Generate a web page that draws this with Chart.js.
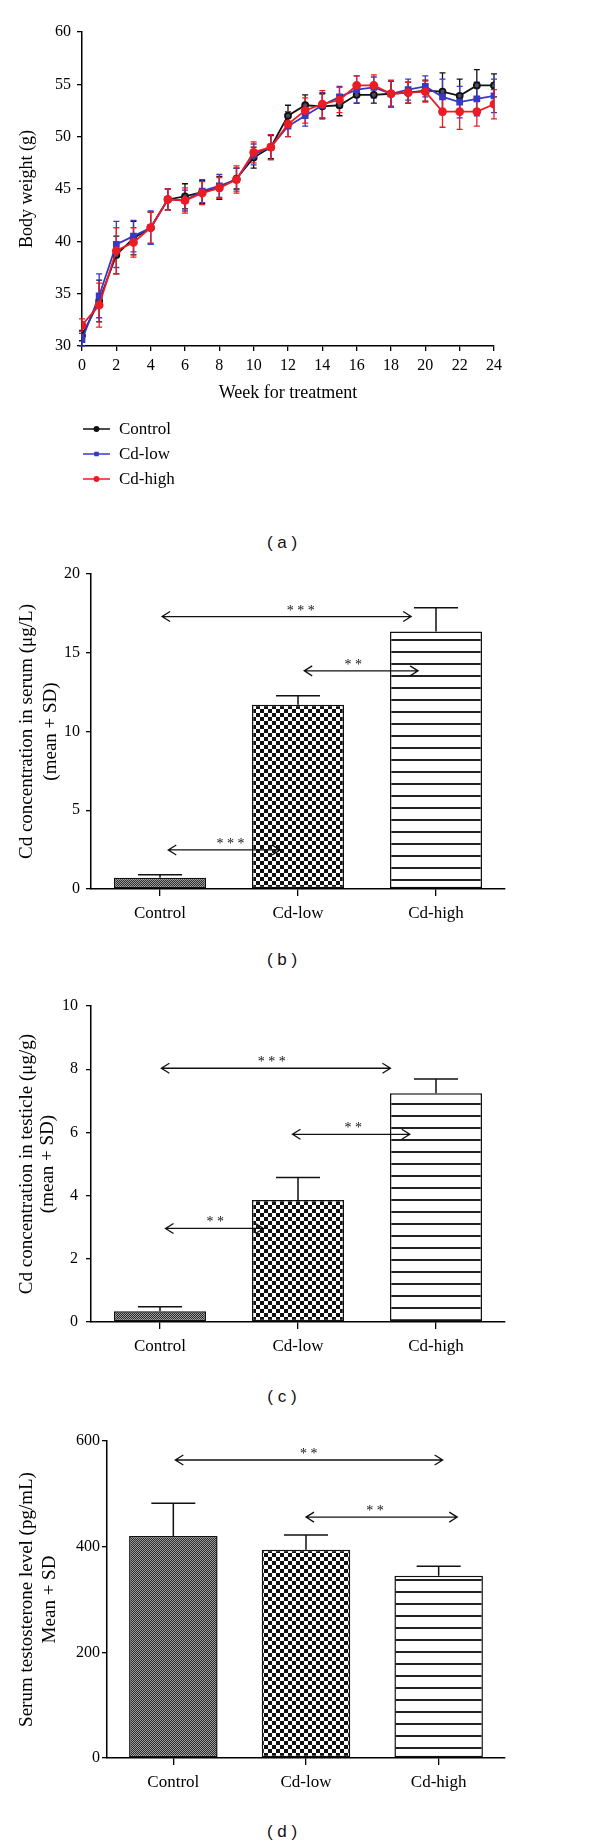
<!DOCTYPE html>
<html>
<head>
<meta charset="utf-8">
<script src="https://cdn.jsdelivr.net/npm/chart.js@4.4.1/dist/chart.umd.min.js"></script>
<style>
	html, body { margin: 0; padding: 0; background: #fff; }
	body { width: 600px; height: 1845px; position: relative; overflow: hidden; }
	canvas { position: absolute; left: 0; }
	.tag { position: absolute; left: 0; width: 564px; text-align: center; font: 17px 'Liberation Sans', Arial, sans-serif; line-height: 20px; color: #111; }
</style>
</head>
<body>
<canvas id="weight" width="600" height="500" style="top:0"></canvas>
<div class="tag" style="top:533px">( a )</div>
<canvas id="serum" width="600" height="385" style="top:545px"></canvas>
<div class="tag" style="top:950px">( b )</div>
<canvas id="testicle" width="600" height="385" style="top:985px"></canvas>
<div class="tag" style="top:1387px">( c )</div>
<canvas id="testo" width="600" height="380" style="top:1425px"></canvas>
<div class="tag" style="top:1822px">( d )</div>

<script>
// body weight over 24 weeks
const weeks = [0, 1, 2, 3, 4, 5, 6, 7, 8, 9, 10, 11, 12, 13, 14, 15, 16, 17, 18, 19, 20, 21, 22, 23, 24];
const controlWeight = [31.0, 34.3, 38.7, 40.3, 41.3, 44.0, 44.3, 44.7, 45.1, 46.0, 48.0, 49.0, 52.0, 53.0, 52.9, 53.0, 54.0, 54.0, 54.1, 54.2, 54.4, 54.3, 53.9, 54.9, 54.9];
const lowWeight = [30.6, 34.8, 39.7, 40.5, 41.3, 44.0, 43.9, 44.8, 45.3, 45.9, 48.3, 49.0, 51.0, 52.0, 53.0, 53.8, 54.5, 54.7, 54.1, 54.5, 54.8, 53.8, 53.3, 53.6, 53.9];
const highWeight = [32.0, 33.9, 39.1, 39.9, 41.3, 44.0, 43.9, 44.6, 45.1, 45.9, 48.5, 49.0, 51.2, 52.5, 53.1, 53.5, 54.9, 54.9, 54.1, 54.2, 54.3, 52.4, 52.4, 52.4, 53.1];
const controlWeightSD = [0.5, 2.0, 1.8, 1.6, 1.5, 1.0, 1.2, 1.1, 1.1, 1.0, 1.0, 1.1, 1.0, 1.0, 1.2, 1.0, 0.8, 0.8, 1.2, 1.0, 1.0, 1.8, 1.6, 1.5, 1.1];
const lowWeightSD = [0.6, 2.1, 2.2, 1.5, 1.6, 1.0, 1.0, 1.1, 1.1, 1.1, 1.0, 1.2, 1.0, 1.0, 1.2, 1.0, 1.3, 1.0, 1.2, 1.0, 1.0, 1.7, 1.5, 1.6, 1.6];
const highWeightSD = [0.6, 2.1, 2.2, 1.4, 1.5, 1.0, 1.2, 1.1, 1.0, 1.3, 1.0, 1.2, 1.2, 1.2, 1.3, 1.2, 0.9, 1.0, 1.3, 1.0, 1.0, 1.5, 1.7, 1.4, 1.4];

// bar panels
const groups = ['Control', 'Cd-low', 'Cd-high'];
const serumMean = [0.72, 11.7, 16.35];
const serumSD = [0.18, 0.57, 1.5];
const testicleMean = [0.34, 3.86, 7.24];
const testicleSD = [0.14, 0.71, 0.45];
const testoMean = [420, 394, 345];
const testoSD = [62, 28, 18];

// significance arrows (x in category units, y in data units)
const serumSig = [
	{ from: 0.015, to: 1.82, at: 17.3, mid: 1.02, stars: '* * *' },
	{ from: 1.045, to: 1.87, at: 13.85, mid: 1.40, stars: '* *' },
	{ from: 0.06, to: 0.87, at: 2.48, mid: 0.51, stars: '* * *' }
];
const testicleSig = [
	{ from: 0.01, to: 1.67, at: 8.03, mid: 0.81, stars: '* * *' },
	{ from: 0.96, to: 1.81, at: 5.94, mid: 1.40, stars: '* *' },
	{ from: 0.04, to: 0.75, at: 2.96, mid: 0.40, stars: '* *' }
];
const testoSig = [
	{ from: 0.015, to: 2.03, at: 564, mid: 1.02, stars: '* *' },
	{ from: 1.0, to: 2.14, at: 456, mid: 1.52, stars: '* *' }
];

const SERIF = "'Liberation Serif', 'Times New Roman', serif";
Chart.defaults.font.family = SERIF;
Chart.defaults.color = '#000';
Chart.defaults.animation = false;

// error bars from ds.sd, drawn under the marks
const errorBars = {
	id: 'errorBars',
	beforeDatasetsDraw(chart, args, opts) {
		const { ctx } = chart;
		const yScale = chart.scales.y;
		chart.data.datasets.forEach((ds, i) => {
			if (!ds.sd) return;
			const meta = chart.getDatasetMeta(i);
			ctx.save();
			ctx.strokeStyle = ds.borderColor;
			ctx.lineWidth = opts.width;
			meta.data.forEach((el, j) => {
				const raw = ds.data[j];
				const v = typeof raw === 'object' ? raw.y : raw;
				const top = yScale.getPixelForValue(v + ds.sd[j]);
				const bottom = opts.both ? yScale.getPixelForValue(v - ds.sd[j]) : el.y;
				ctx.beginPath();
				ctx.moveTo(el.x, bottom);
				ctx.lineTo(el.x, top);
				ctx.moveTo(el.x - opts.cap, top);
				ctx.lineTo(el.x + opts.cap, top);
				if (opts.both) {
					ctx.moveTo(el.x - opts.cap, bottom);
					ctx.lineTo(el.x + opts.cap, bottom);
				}
				ctx.stroke();
			});
			ctx.restore();
		});
	}
};

// double headed arrows with stars
function sigArrows(marks) {
	return {
		id: 'sigArrows',
		afterDatasetsDraw(chart) {
			const { ctx, scales: { x, y } } = chart;
			ctx.save();
			ctx.strokeStyle = '#111';
			ctx.fillStyle = '#111';
			ctx.lineWidth = 1.3;
			ctx.font = '14px ' + SERIF;
			ctx.textAlign = 'center';
			ctx.textBaseline = 'alphabetic';
			marks.forEach(m => {
				const x1 = x.getPixelForValue(m.from),
					x2 = x.getPixelForValue(m.to),
					yy = y.getPixelForValue(m.at);
				ctx.beginPath();
				ctx.moveTo(x1, yy); ctx.lineTo(x2, yy);
				ctx.moveTo(x1 + 8, yy - 5); ctx.lineTo(x1, yy); ctx.lineTo(x1 + 8, yy + 5);
				ctx.moveTo(x2 - 8, yy - 5); ctx.lineTo(x2, yy); ctx.lineTo(x2 - 8, yy + 5);
				ctx.stroke();
				ctx.fillText(m.stars, x.getPixelForValue(m.mid), yy - 2);
			});
			ctx.restore();
		}
	};
}

// vertical legend below the line chart
const stackLegend = {
	id: 'stackLegend',
	afterDraw(chart, args, opts) {
		const { ctx } = chart;
		ctx.save();
		ctx.font = '17px ' + SERIF;
		ctx.textBaseline = 'middle';
		chart.data.datasets.forEach((ds, i) => {
			const y = opts.top + i * opts.gap;
			ctx.strokeStyle = ds.borderColor;
			ctx.lineWidth = 1.5;
			ctx.beginPath();
			ctx.moveTo(opts.left, y);
			ctx.lineTo(opts.left + opts.len, y);
			ctx.stroke();
			ctx.fillStyle = ds.borderColor;
			Chart.helpers.drawPoint(ctx, { pointStyle: ds.pointStyle, radius: 2.2, rotation: 0, borderWidth: 1 }, opts.left + opts.len / 2, y);
			ctx.fillStyle = '#000';
			ctx.fillText(ds.label, opts.left + opts.len + 9, y + 1);
		});
		ctx.restore();
	}
};

function makePattern(w, h, draw) {
	const c = document.createElement('canvas');
	c.width = w; c.height = h;
	const g = c.getContext('2d');
	draw(g);
	return g.createPattern(c, 'repeat');
}
const stipple = makePattern(2, 2, g => {
	g.fillStyle = '#9c9c9c'; g.fillRect(0, 0, 2, 2);
	g.fillStyle = '#2c2c2c'; g.fillRect(0, 0, 1, 1); g.fillRect(1, 1, 1, 1);
});
const checker = makePattern(8, 8, g => {
	g.fillStyle = '#fff'; g.fillRect(0, 0, 8, 8);
	g.fillStyle = '#111'; g.fillRect(0, 0, 4, 4); g.fillRect(4, 4, 4, 4);
});
const hlines = makePattern(4, 12, g => {
	g.fillStyle = '#fff'; g.fillRect(0, 0, 4, 12);
	g.fillStyle = '#222'; g.fillRect(0, 10, 4, 2);
});

// ---- (a) body weight ----
const toPts = vals => weeks.map((w, i) => ({ x: w, y: vals[i] }));
new Chart(document.querySelector('#weight'), {
	type: 'line',
	data: {
		datasets: [
			{ label: 'Control', data: toPts(controlWeight), sd: controlWeightSD, borderColor: '#111', pointBackgroundColor: '#4a4d66', pointBorderColor: '#111', pointStyle: 'circle', pointRadius: 3, borderWidth: 1.8, order: 2 },
			{ label: 'Cd-low', data: toPts(lowWeight), sd: lowWeightSD, borderColor: '#3838c4', pointBackgroundColor: '#3838c4', pointBorderColor: '#3838c4', pointStyle: 'rect', pointRadius: 3.5, borderWidth: 1.8, order: 1 },
			{ label: 'Cd-high', data: toPts(highWeight), sd: highWeightSD, borderColor: '#ec1c24', pointBackgroundColor: '#ec1c24', pointBorderColor: '#ec1c24', pointStyle: 'circle', pointRadius: 3.5, borderWidth: 1.8, order: 0 }
		]
	},
	options: {
		responsive: false,
		layout: { padding: { left: 0, right: 106, top: 32, bottom: 94 } },
		elements: { line: { tension: 0 } },
		scales: {
			x: {
				type: 'linear', min: 0, max: 24,
				ticks: { stepSize: 2, font: { size: 16 }, padding: 5, color: '#000' },
				grid: { drawOnChartArea: false, tickLength: 5, color: '#000', lineWidth: 1.3 },
				border: { color: '#000', width: 1.5 },
				title: { display: true, text: 'Week for treatment', font: { size: 18 }, color: '#000', padding: { top: 0, bottom: 2 } },
				afterFit(s) { s.height = 60; }
			},
			y: {
				min: 30, max: 60,
				ticks: { stepSize: 5, font: { size: 16 }, padding: 6, color: '#000' },
				grid: { drawOnChartArea: false, tickLength: 5, color: '#000', lineWidth: 1.3 },
				border: { color: '#000', width: 1.5 },
				title: { display: true, text: 'Body weight (g)', font: { size: 18 }, color: '#000', padding: { top: 16, bottom: 0 } },
				afterFit(s) { s.width = 82; }
			}
		},
		plugins: {
			legend: { display: false },
			tooltip: { enabled: false },
			errorBars: { width: 1.3, cap: 3, both: true },
			stackLegend: { left: 83, len: 27, top: 429, gap: 25 }
		}
	},
	plugins: [errorBars, stackLegend]
});

// ---- bar panels ----
function barChart(sel, means, sds, marks, cfg) {
	return new Chart(document.querySelector(sel), {
		type: 'bar',
		data: {
			labels: groups,
			datasets: [{
				data: means,
				sd: sds,
				backgroundColor: [stipple, checker, hlines],
				borderColor: '#111',
				borderWidth: 1.5,
				borderSkipped: false,
				categoryPercentage: 1,
				barPercentage: 0.667
			}]
		},
		options: {
			responsive: false,
			layout: { padding: { left: 0, right: 95, top: cfg.top, bottom: 0 } },
			scales: {
				x: {
					ticks: { font: { size: 17 }, padding: 7, color: '#000' },
					grid: { offset: false, drawOnChartArea: false, tickLength: 7, color: '#000', lineWidth: 1.3 },
					border: { color: '#000', width: 1.5 },
					afterFit(s) { s.height = cfg.xh; }
				},
				y: {
					min: 0, max: cfg.max,
					ticks: { stepSize: cfg.step, font: { size: 16 }, padding: cfg.tpad, color: '#000' },
					grid: { drawOnChartArea: false, tickLength: 5, color: '#000', lineWidth: 1.3 },
					border: { color: '#000', width: 1.5 },
					title: { display: true, text: cfg.title, font: { size: 19, lineHeight: cfg.lh }, color: '#000', padding: { top: cfg.tpadTitle, bottom: 0 } },
					afterFit(s) { s.width = cfg.yw; }
				}
			},
			plugins: {
				legend: { display: false },
				tooltip: { enabled: false },
				errorBars: { width: 1.5, cap: 22, both: false }
			}
		},
		plugins: [errorBars, sigArrows(marks)]
	});
}

barChart('#serum', serumMean, serumSD, serumSig, {
	top: 29, xh: 41, max: 20, step: 5, tpad: 6, yw: 91, lh: '24px', tpadTitle: 15,
	title: ['Cd concentration in serum (μg/L)', '(mean + SD)']
});
barChart('#testicle', testicleMean, testicleSD, testicleSig, {
	top: 21, xh: 48, max: 10, step: 2, tpad: 8, yw: 91, lh: '21px', tpadTitle: 16.5,
	title: ['Cd concentration in testicle (μg/g)', '(mean + SD)']
});
barChart('#testo', testoMean, testoSD, testoSig, {
	top: 16, xh: 47, max: 600, step: 200, tpad: 2, yw: 107, lh: '23px', tpadTitle: 15.5,
	title: ['Serum testosterone level (pg/mL)', 'Mean + SD']
});
</script>
</body>
</html>
